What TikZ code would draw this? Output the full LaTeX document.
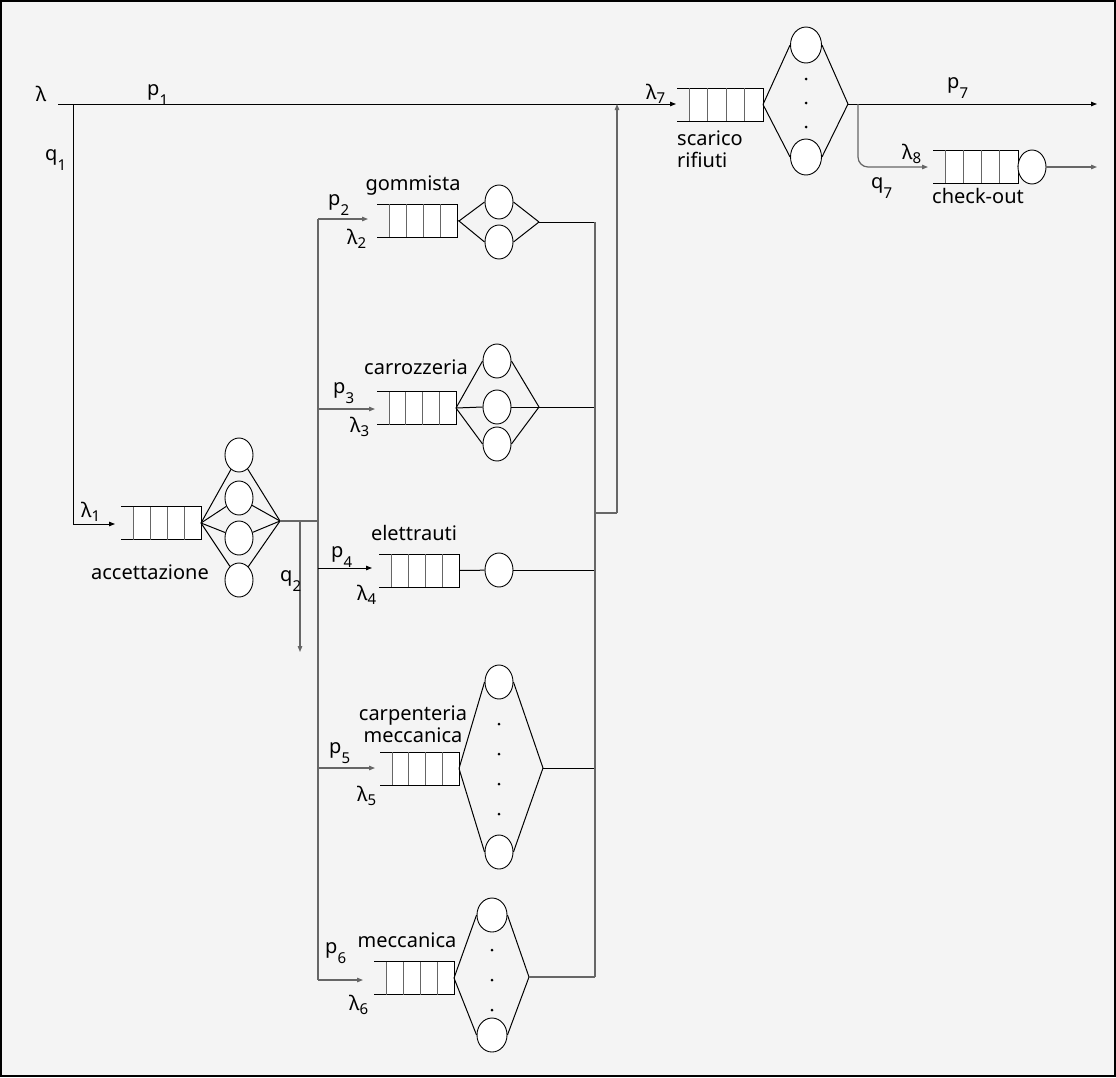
\documentclass[tikz,border=0pt]{standalone}
\usepackage{fontspec}
\setmainfont{Noto Sans}
\usetikzlibrary{shapes.geometric,arrows.meta}

% subscripts: a low one for routing probabilities, a normal one for rates
\newcommand\lowsub[1]{\raisebox{-0.5em}{\fontsize{15}{15}\selectfont #1}}
\newcommand\ratesub[1]{\raisebox{-0.2em}{\fontsize{15}{15}\selectfont #1}}

% a waiting line: open on the left, four cells on the right
\newcommand\waitline[4]{% name, left x, right x, centre y
  \coordinate (#1-in) at (#2,#4);
  \coordinate (#1-out) at (#3,#4);
  \fill[white] ({#2+12},{#4-16.5}) rectangle (#3,{#4+16.5});
  \draw[qline] (#2,{#4-16.5}) -- (#3,{#4-16.5}) -- (#3,{#4+16.5}) -- (#2,{#4+16.5});
  \foreach \k in {0,1,2,3}{
    \draw[qdiv] ({#2+12+\k*(#3-#2-12)/4},{#4-16.5}) -- ++(0,33);
  }
}

\tikzset{
  srv/.style={ellipse, draw=black, line width=0.9pt, fill=white,
              minimum width=28pt, minimum height=34pt, inner sep=0pt},
  lbl/.style={font=\fontsize{20}{24}\selectfont, inner sep=0pt},
  qline/.style={line width=1pt, black},
  qdiv/.style={line width=1pt, black!60},
  ln/.style={line width=1pt, black},
  gln/.style={line width=1.2pt, black!60},
  flow/.style={-{Triangle[length=6pt,width=4.5pt]}},
  dot/.style={circle, fill=black, minimum size=3pt, inner sep=0pt},
}

\begin{document}
\begin{tikzpicture}[x=1pt,y=-1pt]
\useasboundingbox (0,0) rectangle (1116,1077);
\draw[line width=2pt, fill={rgb,255:red,244;green,244;blue,244}] (1,1) rectangle (1115,1076);

% ---------------- waiting lines ----------------
\waitline{acc}{121}{201}{523}
\waitline{gom}{377}{457}{220.5}
\waitline{car}{377}{456}{408}
\waitline{ele}{379}{459}{570.5}
\waitline{carp}{380}{459}{768.5}
\waitline{mec}{374}{454}{978}
\waitline{sca}{677}{763}{104.5}
\waitline{chk}{933}{1018}{166.5}

% ---------------- servers ----------------
% accettazione
\node[srv] (a1) at (239,455) {};
\node[srv] (a2) at (239,498) {};
\node[srv] (a3) at (239,538) {};
\node[srv] (a4) at (239,580) {};
\coordinate (aj) at (280,521);
\foreach \s in {a1,a2,a3,a4}{
  \draw[ln] (acc-out) -- (\s);
  \draw[ln] (\s) -- (aj);
}
% gommista
\node[srv] (g1) at (499,202) {};
\node[srv] (g2) at (499,242) {};
\coordinate (gl) at (459,221);
\coordinate (gj) at (539,222);
\draw[ln] (gom-out) -- (gl);
\foreach \s in {g1,g2}{
  \draw[ln] (gl) -- (\s.west);
  \draw[ln] (\s.east) -- (gj);
}
% carrozzeria
\node[srv] (c1) at (497,361) {};
\node[srv] (c2) at (497,407) {};
\node[srv] (c3) at (497,444) {};
\coordinate (cj) at (539,407);
\foreach \s in {c1,c2,c3}{
  \draw[ln] (car-out) -- (\s.west);
  \draw[ln] (\s.east) -- (cj);
}
% elettrauti
\node[srv] (e1) at (499,570) {};
\draw[ln] (ele-out) -- (e1);
% carpenteria meccanica
\node[srv] (k1) at (499,682) {};
\node[srv] (k2) at (499,852) {};
\coordinate (kj) at (543,768);
\foreach \s in {k1,k2}{
  \draw[ln] (carp-out) -- (\s.west);
  \draw[ln] (\s.east) -- (kj);
}
\foreach \y in {724,754,784,814} \node[dot] at (499,\y) {};
% meccanica
\node[srv, minimum width=30pt] (m1) at (492,915) {};
\node[srv, minimum width=30pt] (m2) at (492,1035) {};
\coordinate (mj) at (529,977);
\foreach \s in {m1,m2}{
  \draw[ln] (mec-out) -- (\s.west);
  \draw[ln] (\s.east) -- (mj);
}
\foreach \y in {950,980,1010} \node[dot] at (492,\y) {};
% scarico rifiuti
\node[srv, minimum width=31pt, minimum height=36pt] (s1) at (806,45) {};
\node[srv, minimum width=31pt, minimum height=36pt] (s2) at (806,157) {};
\coordinate (sj) at (848,104);
\foreach \s in {s1,s2}{
  \draw[ln] (sca-out) -- (\s.west);
  \draw[ln] (\s.east) -- (sj);
}
\foreach \y in {79,103,127} \node[dot] at (806,\y) {};
% check-out
\node[srv, minimum width=28pt] (h1) at (1032,167) {};
\draw[ln] (chk-out) -- (h1);

% ---------------- routing ----------------
\coordinate (src) at (58,104);
\coordinate (split1) at (73,104);
\coordinate (ret) at (617,104);
\draw[ln, flow] (src) -- (676,104);
\draw[ln, flow] (split1) -- (73,524) -- (115,524);

% out of accettazione
\coordinate (bus) at (318,521);
\draw[gln] (aj) -- (bus);
\draw[gln, flow] (300,521) -- (300,652);
\draw[gln] (318,219) -- (318,980);
\draw[gln, flow] (318,219) -- (368,219);
\draw[gln, flow] (318,409) -- (375,409);
\draw[ln, flow] (318,568) -- (372,568);
\draw[gln, flow] (318,768) -- (375,768);
\draw[gln, flow] (318,980) -- (363,980);

% collector towards scarico rifiuti
\draw[ln] (gj) -- (595,222);
\draw[ln] (cj) -- (595,407);
\draw[ln] (e1) -- (595,570);
\draw[ln] (kj) -- (595,768);
\draw[gln] (mj) -- (595,977);
\draw[gln] (595,222) -- (595,977);
\draw[gln] (595,513) -- (617,513);
\draw[gln, flow] (617,513) -- (ret);

% out of scarico rifiuti
\draw[ln, flow] (sj) -- (1097,104);
\draw[gln, flow, rounded corners=10pt] (858,104) -- (858,167) -- (928,167);
\draw[gln, flow] (h1) -- (1097,167);

% ---------------- labels ----------------
\node[lbl] at (41,94) {λ};
\node[lbl, anchor=base west] at (147,95) {p\lowsub{1}};
\node[lbl, anchor=base west] at (45,160) {q\lowsub{1}};
\node[lbl, anchor=base west] at (81,517) {λ\ratesub{1}};
\node[lbl, anchor=base west] at (328,205) {p\lowsub{2}};
\node[lbl, anchor=base west] at (347,244) {λ\ratesub{2}};
\node[lbl, anchor=base west] at (333,393) {p\lowsub{3}};
\node[lbl, anchor=base west] at (350,432) {λ\ratesub{3}};
\node[lbl, anchor=base west] at (331,557) {p\lowsub{4}};
\node[lbl, anchor=base west] at (357,600) {λ\ratesub{4}};
\node[lbl, anchor=base west] at (329,753) {p\lowsub{5}};
\node[lbl, anchor=base west] at (357,801) {λ\ratesub{5}};
\node[lbl, anchor=base west] at (325,953) {p\lowsub{6}};
\node[lbl, anchor=base west] at (349,1010) {λ\ratesub{6}};
\node[lbl, anchor=base west] at (280,581) {q\lowsub{2}};
\node[lbl, anchor=base west] at (646,99) {λ\ratesub{7}};
\node[lbl, anchor=base west] at (947,88) {p\lowsub{7}};
\node[lbl, anchor=base west] at (902,159) {λ\ratesub{8}};
\node[lbl, anchor=base west] at (871,188) {q\lowsub{7}};

\node[lbl] (t-acc) at (150,572) {accettazione};
\node[lbl] (t-gom) at (413,186) {gommista};
\node[lbl] (t-car) at (416,367) {carrozzeria};
\node[lbl] (t-ele) at (414,533) {elettrauti};
\node[lbl, align=center] (t-carp) at (413,724) {carpenteria\\[-2pt]meccanica};
\node[lbl] (t-mec) at (407,940) {meccanica};
\node[lbl, align=left, anchor=north west] (t-sca) at (677,131) {scarico\\[-2pt]rifiuti};
\node[lbl] (t-chk) at (978,196) {check-out};
\end{tikzpicture}
\end{document}
